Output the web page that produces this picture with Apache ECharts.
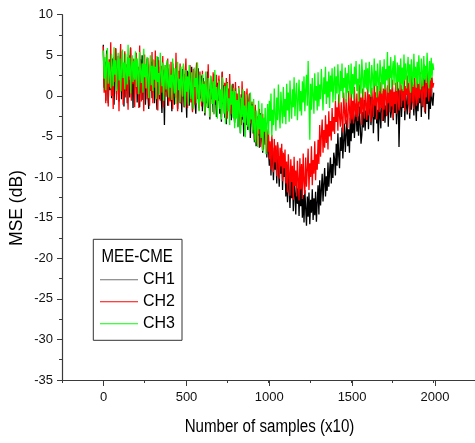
<!DOCTYPE html>
<html>
<head>
<meta charset="utf-8">
<title>MSE vs samples</title>
<script src="https://cdn.jsdelivr.net/npm/echarts@6/dist/echarts.min.js"></script>
<style>
  html, body { margin: 0; padding: 0; background: #fff; }
  #main { width: 475px; height: 443px; }
</style>
</head>
<body>
<div id="main"></div>
<script>
// readings every 5 samples (x10), from 0 to 2000, one row = 100 samples
var sampleStep = 5;

var ch1 = [
  6.3, 1.0, 4.2, -0.6, 5.6, 2.4, -0.9, 3.8, 0.7, 5.1, -0.3, 4.6, 1.6, -1.1, 3.5, 5.8, 0.2, 2.9, 4.9, -0.7,
  3.1, 5.5, -0.4, 4.0, 1.8, -1.3, 5.2, 0.6, 3.7, -0.9, 4.8, 2.1, -0.2, 5.9, 1.0, 3.4, -1.5, 4.3, 0.9, 2.6,
  4.9, -0.8, 3.2, 1.3, -1.4, 4.5, 0.4, 5.0, -0.5, 2.7, 3.9, -1.1, 1.8, 4.6, 0.1, -1.6, 3.6, 1.1, 4.2, -0.3,
  2.5, 4.4, -0.9, 3.0, 0.6, -1.7, 4.8, 1.4, -0.4, 3.6, 0.2, -2.1, 3.2, 1.7, -3.6, 2.8, 0.5, 4.1, -1.2, 1.9,
  3.4, -0.6, 1.2, -1.9, 4.0, 0.8, -1.1, 2.6, -0.2, 3.7, -1.6, 1.5, 3.0, -0.9, 2.2, -2.0, 3.3, 0.3, -1.4, 2.7,
  0.4, -2.7, 3.1, 1.0, -1.2, 2.4, -0.5, 3.6, -1.8, 1.6, 2.8, -0.8, -2.2, 2.0, 0.6, 3.4, -1.5, 1.2, -0.3, 2.5,
  -1.9, 2.2, 0.3, -2.4, 1.8, -0.9, 3.0, -1.5, 0.8, -2.9, 2.4, -0.4, 1.1, -2.0, 2.7, -1.1, 0.2, -2.6, 1.6, -0.6,
  2.0, -2.2, 0.6, -3.2, 2.9, -1.0, 1.3, -2.7, 0.1, -3.5, 1.7, -1.6, 0.7, -2.4, 1.2, -3.0, -0.6, 1.5, -2.0, -3.3,
  1.0, -2.5, -0.4, -3.8, 0.7, -1.9, -4.6, 0.2, -2.9, -1.2, -5.0, 0.5, -2.3, -3.6, -0.6, -4.2, -1.5, 0.3, -5.2, -2.6,
  -1.0, -4.6, -2.3, -5.7, -1.4, -6.2, -3.0, -4.9, -1.8, -6.4, -3.6, -2.1, -5.5, -7.0, -2.9, -4.4, -6.0, -3.3, -7.6, -4.8,
  -5.0, -8.6, -6.2, -9.8, -5.3, -7.7, -10.4, -6.4, -9.1, -7.2, -10.8, -6.0, -8.5, -11.2, -7.4, -9.6, -6.8, -11.6, -8.1, -10.0,
  -8.5, -12.4, -9.6, -13.1, -8.9, -11.2, -13.8, -10.0, -12.6, -9.4, -14.2, -10.6, -12.0, -14.6, -10.3, -13.3, -11.4, -14.8, -10.9, -13.6,
  -11.3, -15.0, -12.2, -15.6, -11.6, -13.8, -16.0, -12.4, -14.9, -11.9, -15.8, -12.8, -14.4, -11.5, -15.3, -12.6, -14.7, -11.8, -15.5, -13.0,
  -11.0, -14.6, -10.4, -13.5, -11.6, -9.6, -13.0, -10.8, -8.9, -12.4, -9.9, -11.7, -8.2, -11.2, -9.3, -7.6, -10.8, -8.4, -10.1, -7.0,
  -7.8, -9.8, -5.9, -8.6, -4.6, -7.4, -8.9, -5.1, -6.8, -3.9, -7.7, -5.5, -3.4, -6.9, -4.8, -2.9, -6.2, -4.1, -7.0, -2.7,
  -5.6, -2.2, -4.6, -1.6, -5.2, -3.0, -0.9, -4.4, -2.5, -4.9, -1.3, -3.6, -5.9, -4.8, -2.0, -3.9, -0.5, -4.3, -1.8, -3.2,
  -0.6, -4.1, -1.5, 0.1, -3.6, -2.2, -0.3, -4.6, -1.0, -2.9, 0.4, -3.4, -1.7, -5.6, -0.2, -2.6, -4.0, 0.3, -1.9, -3.1,
  0.5, -3.3, -1.2, -2.4, 1.0, -3.8, -0.4, 0.8, -2.7, -1.6, 1.2, -3.0, -0.7, -2.1, 0.6, -3.5, -1.3, 0.9, -6.3, -1.8,
  1.3, -2.6, -0.3, -1.5, 1.8, -3.0, 0.4, -1.1, -2.3, 1.5, -0.6, -2.8, 0.9, -1.7, 1.9, -0.5, -2.4, 1.1, -1.2, -3.1,
  2.0, -1.9, 0.6, -0.9, 2.4, -2.6, 1.1, -1.4, 3.9, -0.4, -2.2, 1.6, -1.0, 2.6, -2.9, 0.8, -1.6, 2.2, -0.6, -1.2,
  0.4
];

var ch2 = [
  6.1, 0.4, 3.8, -0.9, 5.2, 2.0, -1.3, 4.5, 1.1, 6.6, 0.0, 3.1, -1.6, 4.8, 1.7, 5.9, -0.5, 2.6, 4.1, -1.9,
  3.5, 6.4, 0.6, 4.3, -1.1, 2.4, 5.5, -0.2, 3.9, 1.2, -1.7, 5.0, 2.0, 6.0, -0.6, 3.2, 1.5, 4.6, -1.4, 2.8,
  5.3, 0.2, 3.6, -1.5, 6.2, 1.8, -0.7, 4.1, 2.5, -1.9, 5.1, 0.9, 3.3, -0.4, 4.7, 1.4, -1.2, 3.9, 0.6, 5.4,
  -0.9, 3.4, 1.0, 5.6, -0.3, 2.9, -1.8, 4.4, 1.6, -0.6, 3.7, 0.4, 4.9, -1.4, 2.3, 3.8, -0.1, 2.0, 4.6, -1.2,
  2.8, -0.7, 4.2, 0.9, -1.6, 3.5, 1.7, -0.2, 5.3, 0.5, -1.9, 3.1, 1.3, 4.0, -0.9, 2.4, 0.0, 3.7, -1.4, 2.1,
  4.6, 0.3, -1.5, 2.9, 0.8, 3.8, -0.8, 1.9, -2.0, 3.3, 0.5, -1.1, 2.6, 4.1, -0.4, 1.4, -1.8, 3.0, 0.2, -1.3,
  3.1, -0.6, 1.8, -2.1, 2.4, 0.4, -1.4, 3.9, -0.3, -2.5, 2.0, 0.9, -1.0, 2.9, -2.2, 1.3, -0.7, 2.6, -1.8, 0.6,
  2.5, -1.3, 0.7, -2.6, 3.0, 0.2, -1.9, 1.6, -0.8, 2.2, -2.8, 0.9, -1.4, 2.7, -0.5, -2.3, 1.4, -1.0, 0.5, -2.9,
  1.7, -1.8, 0.3, -3.0, 1.2, -2.2, -0.4, -3.6, 1.8, -1.3, -2.7, 0.6, -4.1, -0.9, 0.9, -2.9, -1.6, 0.2, -3.4, -2.0,
  -0.7, -4.2, -2.0, -5.4, -1.1, -3.6, -6.0, -2.5, -4.7, -1.6, -6.3, -3.1, -5.0, -2.2, -6.6, -3.8, -2.7, -5.9, -4.1, -6.9,
  -4.3, -7.8, -5.6, -9.1, -4.8, -6.9, -9.4, -5.3, -8.2, -6.1, -9.9, -5.7, -7.4, -10.2, -6.4, -8.7, -5.9, -10.5, -7.0, -8.9,
  -6.6, -10.8, -8.1, -11.9, -7.2, -9.4, -12.3, -7.8, -10.6, -8.6, -12.8, -7.5, -11.1, -9.2, -12.4, -8.0, -10.3, -12.9, -7.7, -11.5,
  -8.4, -12.7, -7.1, -10.5, -12.1, -7.6, -11.2, -9.0, -6.5, -11.6, -8.3, -10.0, -6.2, -11.0, -7.9, -9.6, -5.6, -10.4, -7.2, -9.1,
  -5.4, -8.4, -3.6, -7.5, -4.8, -2.9, -7.0, -4.2, -6.4, -2.4, -5.8, -3.5, -6.6, -1.9, -5.0, -3.1, -5.5, -1.5, -4.4, -2.6,
  -4.7, -0.6, -3.2, -1.4, -4.3, 0.2, -2.5, -3.8, -0.8, -3.0, -4.5, 0.4, -1.9, -3.5, -0.4, -2.8, -4.0, 0.6, -1.6, -3.4,
  0.7, -2.9, -0.6, -3.4, 1.1, -1.8, -2.6, 0.3, -3.1, -0.9, 1.4, -2.2, -0.2, -3.6, 0.9, -1.5, -2.8, 0.5, -1.1, -3.0,
  1.3, -2.4, 0.2, -1.6, -3.2, 1.0, -0.7, -2.6, 1.6, -1.2, 0.4, -2.9, 1.2, -0.4, -2.0, 1.7, -1.5, 0.6, -3.1, 0.9,
  -1.7, 1.8, -0.5, -2.5, 1.3, -0.9, 2.2, -2.0, 0.7, -1.3, 2.0, -2.8, 0.5, -1.0, 1.6, -2.2, 2.4, -0.6, -1.8, 1.1,
  2.3, -1.4, 0.8, -0.6, 2.7, -1.9, 1.2, 0.1, 2.5, -1.1, 1.6, -2.1, 0.6, 2.9, -0.8, 1.4, -1.6, 2.2, 0.3, -1.2,
  2.6, -0.9, 1.5, -0.3, 2.9, 0.4, -1.3, 2.1, 0.9, -2.0, 2.4, -0.2, 1.7, 3.0, -0.7, 1.1, 2.6, -0.1, 2.3, 1.0,
  1.6
];

var ch3 = [
  5.6, 2.1, 4.8, 0.7, 3.9, 5.9, 1.5, 4.2, 2.8, 0.9, 5.1, 3.4, 1.2, 6.0, 2.6, 4.4, 0.6, 3.7, 5.3, 1.9,
  4.6, 0.5, 3.3, 5.7, 2.2, 4.1, 0.8, 5.2, 3.0, 1.4, 6.3, 2.4, 4.7, 0.3, 3.6, 5.0, 1.7, 4.3, 2.0, 5.5,
  1.1, 4.6, 2.9, 0.2, 5.4, 3.1, 1.6, 4.0, 0.4, 5.8, 2.3, 3.9, 0.9, 4.8, 2.5, -0.3, 3.4, 5.0, 1.3, 3.7,
  0.6, 4.5, 2.0, 3.6, -0.4, 4.9, 1.7, 2.8, 0.1, 5.3, 3.0, 1.2, 4.1, -0.6, 2.4, 3.8, 0.8, 4.4, 1.5, -0.2,
  3.9, 1.0, 2.6, -0.5, 4.6, 1.8, 0.3, 3.4, -1.0, 2.7, 4.2, 0.7, 2.1, -0.8, 3.6, 1.4, -0.1, 4.0, 1.9, -1.3,
  3.2, 0.5, 2.4, -1.1, 3.8, 1.6, -0.4, 2.9, 0.2, -1.6, 3.5, 1.1, 2.2, -0.9, 4.1, 0.4, -1.9, 2.6, 1.3, -0.7,
  2.7, -0.8, 1.5, -2.1, 3.0, 0.3, -1.4, 2.2, -0.2, -2.6, 2.5, 0.9, -1.0, 1.8, -2.3, 3.2, -0.5, 1.1, -2.8, 0.6,
  1.9, -1.6, 0.8, -2.9, 2.3, -0.7, -2.2, 1.2, -3.4, 0.4, 1.6, -1.9, -0.3, -3.6, 1.4, -1.1, 0.6, -2.7, 1.0, -4.0,
  0.6, -2.8, -0.5, -3.9, 1.0, -1.7, -4.6, -0.2, -2.6, 0.8, -3.3, -1.2, -5.1, 0.2, -2.2, -3.8, -0.7, -4.4, 0.4, -2.9,
  -1.2, -4.6, -0.4, -3.5, -5.7, -1.8, -3.0, -6.3, -0.6, -4.1, -2.3, -5.2, -0.9, -6.8, -2.7, -4.4, -1.5, -7.2, -3.3, -1.0,
  -4.8, -0.6, -3.1, 0.3, -5.0, -1.7, -3.6, 0.9, -2.4, -4.3, -0.2, -3.0, 1.4, -2.2, -4.0, 0.5, -1.6, -3.4, 1.1, -2.6,
  -0.4, -3.5, 1.5, -1.8, 0.4, -3.2, 1.9, -0.9, -2.8, 0.8, -1.4, 2.3, -2.5, 0.1, 1.6, -3.0, -0.6, 2.0, -1.9, 0.6,
  -2.4, 1.8, -0.8, 2.4, -1.9, 0.7, 2.6, -1.2, 4.3, -0.4, -5.4, 1.5, -1.7, 2.2, 0.1, -2.2, 2.8, -0.6, 1.2, -1.8,
  2.9, -1.3, 1.4, -0.4, 3.3, 0.7, -1.8, 2.3, 0.2, 3.6, -1.0, 1.8, -0.2, 3.0, -1.5, 2.5, 0.5, 3.4, -0.8, 1.6,
  3.6, -0.6, 2.4, 0.3, 3.9, 1.2, -0.9, 3.1, 0.6, 4.0, -0.3, 2.2, 1.0, 3.5, -0.8, 2.8, 0.4, 3.8, 1.5, -0.2,
  4.0, 0.2, 2.7, -0.4, 3.6, 1.4, 4.3, 0.6, 2.1, -0.7, 3.9, 1.8, 0.3, 4.5, 2.4, -0.2, 3.2, 1.0, 4.1, 0.8,
  3.4, 0.4, 4.2, 1.6, -0.1, 3.8, 2.3, 0.7, 4.6, 1.2, 3.1, -0.2, 4.0, 1.9, 0.6, 4.4, 2.7, 0.3, 3.6, 1.4,
  4.5, 0.8, 3.3, 1.9, 5.4, 0.4, 3.7, 2.2, 4.8, 0.9, 3.0, 4.3, 1.3, 5.0, 2.5, 0.6, 4.1, 1.7, 3.8, 0.7,
  4.6, 1.4, 3.5, 0.6, 5.1, 2.0, 4.0, 0.9, 3.2, 4.8, 1.6, 3.9, 0.4, 4.5, 2.6, 1.1, 5.2, 2.2, 3.6, 1.0,
  4.2, 1.5, 5.0, 2.4, 0.8, 4.6, 3.0, 1.2, 4.9, 2.0, 3.7, 1.6, 5.3, 2.8, 0.9, 4.3, 1.9, 4.7, 2.3, 4.0,
  3.2
];

var seriesNames = ['CH1', 'CH2', 'CH3'];
var seriesColors = ['#000000', '#ff0000', '#00ff00'];
var legendColors = ['#707070', '#ff0000', '#00ff00'];
var legendTitle = 'MEE-CME';

var xTicks = [0, 500, 1000, 1500, 2000];
var yTicks = [10, 5, 0, -5, -10, -15, -20, -25, -30, -35];

var font = "'Liberation Sans', Arial, sans-serif";
var axisColor = '#3a3a3a';

function toPoints(arr) {
  return arr.map(function (v, i) { return [i * sampleStep, v]; });
}

var chart = echarts.init(document.getElementById('main'), null, { renderer: 'canvas' });

var option = {
  animation: false,
  backgroundColor: '#fff',
  grid: [
    { left: 62, top: 14.7, width: 414, height: 365.3 },
    // helper grid only for the labelled major ticks 0..2000
    { left: 103.7, top: 14.7, width: 331.2, height: 365.3 }
  ],
  xAxis: [{
    type: 'value',
    gridIndex: 0,
    min: -250,
    max: 2250,
    interval: 250,
    axisLine: { show: true, onZero: false, lineStyle: { color: axisColor, width: 1.2 } },
    axisTick: { show: true, length: 3, lineStyle: { color: axisColor } },
    axisLabel: { show: false },
    splitLine: { show: false }
  }, {
    type: 'value',
    gridIndex: 1,
    min: xTicks[0],
    max: xTicks[xTicks.length - 1],
    interval: 500,
    axisLine: { show: false, onZero: false },
    axisTick: { show: true, length: 6, lineStyle: { color: axisColor } },
    axisLabel: {
      margin: 11, color: '#111', fontSize: 13, fontFamily: font,
      formatter: function (v) { return String(v); }
    },
    splitLine: { show: false }
  }],
  yAxis: [{
    type: 'value',
    gridIndex: 0,
    min: yTicks[yTicks.length - 1],
    max: yTicks[0],
    interval: 5,
    axisLine: { show: true, onZero: false, lineStyle: { color: axisColor, width: 1.2 } },
    axisTick: { show: true, length: 5, lineStyle: { color: axisColor } },
    minorTick: { show: true, splitNumber: 2, length: 3, lineStyle: { color: axisColor } },
    axisLabel: { margin: 9, color: '#111', fontSize: 13, fontFamily: font },
    splitLine: { show: false }
  }, {
    type: 'value',
    gridIndex: 1,
    min: -35,
    max: 10,
    show: false,
    axisLine: { onZero: false }
  }],
  legend: {
    orient: 'vertical',
    left: 93.3,
    top: 239.3,
    padding: [29.4, 7, 5.6, 6.7],
    itemGap: 0,
    itemWidth: 38,
    itemHeight: 14,
    borderColor: '#333',
    borderWidth: 1,
    backgroundColor: '#fff',
    textStyle: { fontSize: 16, lineHeight: 22, color: '#000', fontFamily: font },
    data: seriesNames.map(function (n, i) {
      return { name: n, icon: 'path://M0,0 L38,0 L38,1 L0,1 Z', itemStyle: { color: legendColors[i] } };
    })
  },
  graphic: [{
    type: 'text',
    x: 101.5,
    y: 257,
    scaleX: 0.84,
    z: 100,
    style: { text: legendTitle, fill: '#000', font: '18px ' + font, verticalAlign: 'middle' }
  }, {
    type: 'text',
    x: 17,
    y: 208,
    rotation: Math.PI / 2,
    style: {
      text: 'MSE (dB)', fill: '#000', font: '17.5px ' + font,
      align: 'center', verticalAlign: 'middle'
    }
  }, {
    type: 'text',
    x: 269.5,
    y: 427,
    scaleX: 0.84,
    style: {
      text: 'Number of samples (x10)', fill: '#000', font: '18px ' + font,
      align: 'center', verticalAlign: 'middle'
    }
  }],
  series: [ch1, ch2, ch3].map(function (arr, i) {
    return {
      name: seriesNames[i],
      type: 'line',
      xAxisIndex: 0,
      yAxisIndex: 0,
      symbol: 'none',
      sampling: null,
      data: toPoints(arr),
      lineStyle: { color: seriesColors[i], width: 1.3 },
      itemStyle: { color: seriesColors[i] }
    };
  })
};

chart.setOption(option);
</script>
</body>
</html>
